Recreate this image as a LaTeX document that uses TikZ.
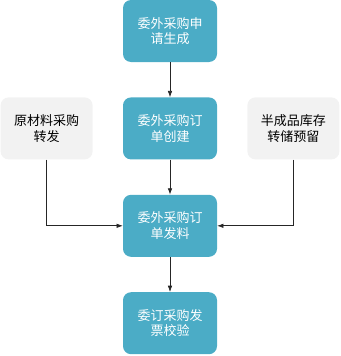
\documentclass[tikz,border=0pt]{standalone}
\usepackage{fontspec}
\setmainfont{Noto Sans CJK SC}
\usepackage{xcolor}
\usetikzlibrary{arrows.meta, positioning}
\definecolor{flowblue}{HTML}{4BACC6}
\definecolor{sidegray}{HTML}{F2F2F2}
\tikzset{
  stepbox/.style={rounded corners=8pt, fill=flowblue, text=white, align=center, minimum width=94pt, minimum height=62pt, inner sep=2pt},
  sidebox/.style={rounded corners=8pt, fill=sidegray, text=black, align=center, minimum width=92pt, minimum height=62pt, inner sep=2pt},
  arrow/.style={-{Latex[length=2.2mm, width=1.6mm]}, line width=0.7pt, black!85},
  every node/.style={font=\fontsize{13}{15.5}\selectfont}
}
\begin{document}
\begin{tikzpicture}[node distance=35pt and 30pt]
    \useasboundingbox (0pt,0pt) rectangle (340pt,-356pt);
    \node[stepbox] (apply) at (170pt,-31pt) {委外采购申\\请生成};
    \node[stepbox, below=of apply] (order) {委外采购订\\单创建};
    \node[stepbox, below=of order] (issue) {委外采购订\\单发料};
    \node[stepbox, below=of issue] (check) {委订采购发\\票校验};

    \node[sidebox, left=of order] (raw) {原材料采购\\转发};
    \node[sidebox, right=of order] (semi) {半成品库存\\转储预留};

    \draw[arrow] (apply) -- (order);
    \draw[arrow] (order) -- (issue);
    \draw[arrow] (issue) -- (check);
    \draw[arrow] (raw) |- (issue);
    \draw[arrow] (semi) |- (issue);
\end{tikzpicture}
\end{document}
